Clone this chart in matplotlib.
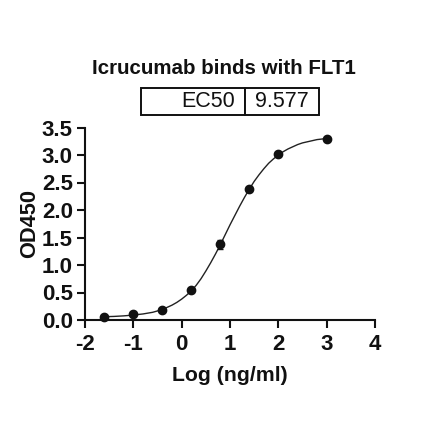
import matplotlib
matplotlib.use("Agg")
import matplotlib.pyplot as plt

title = "Icrucumab binds with FLT1"
x_label = "Log (ng/ml)"
y_label = "OD450"
table_cells = ["EC50", "9.577"]
x_ticks = [-2, -1, 0, 1, 2, 3, 4]
y_ticks = [0.0, 0.5, 1.0, 1.5, 2.0, 2.5, 3.0, 3.5]

log_conc = [-1.6, -1.0, -0.4, 0.2, 0.8, 1.4, 2.0, 3.0]
od450 = [0.06, 0.11, 0.19, 0.55, 1.38, 2.38, 3.02, 3.30]
od450_err = [0.01, 0.01, 0.01, 0.02, 0.08, 0.03, 0.03, 0.02]

fit_x = [-1.6, -1.4, -1.2, -1.0, -0.8, -0.6, -0.4, -0.3, -0.2, -0.1, 0.0, 0.1, 0.2, 0.3, 0.4,
         0.5, 0.6, 0.7, 0.8, 0.9, 1.0, 1.1, 1.2, 1.3, 1.4, 1.5, 1.6, 1.7, 1.8, 1.9, 2.0,
         2.1, 2.2, 2.3, 2.4, 2.5, 2.6, 2.7, 2.8, 2.9, 3.0]
fit_y = [0.06, 0.065, 0.075, 0.09, 0.11, 0.14, 0.19, 0.23, 0.27, 0.32, 0.38, 0.45, 0.53, 0.63, 0.75,
         0.89, 1.04, 1.20, 1.37, 1.55, 1.73, 1.90, 2.07, 2.23, 2.38, 2.52, 2.64, 2.75, 2.85, 2.93, 3.00,
         3.06, 3.11, 3.15, 3.19, 3.22, 3.24, 3.26, 3.28, 3.29, 3.30]

plt.rcParams["font.family"] = ["Liberation Sans", "DejaVu Sans"]
plt.rcParams["font.weight"] = "bold"
plt.rcParams["axes.unicode_minus"] = False

W, H = 440, 441
fig = plt.figure(figsize=(W / 100, H / 100), dpi=100)
L, R, T, B = 85, 375, 127.5, 320
ax = fig.add_axes([L / W, 1 - B / H, (R - L) / W, (B - T) / H])

ax.plot(fit_x, fit_y, color="#222222", lw=1.0, zorder=2, clip_on=False)
ax.errorbar(log_conc, od450, yerr=od450_err, fmt="o", color="#111111", ms=6,
            elinewidth=1, capsize=2.5, capthick=1, zorder=3, clip_on=False)

ax.set_xlim(-2, 4)
ax.set_ylim(0, 3.5)
ax.set_xticks(x_ticks)
ax.set_yticks(y_ticks)
ax.set_yticklabels([f"{v:.1f}" for v in y_ticks])
ax.tick_params(axis="x", pad=4)
ax.tick_params(axis="both", labelsize=16, width=1.5, length=5.8, color="#111111",
               labelcolor="#111111")
ax.tick_params(axis="y", pad=3)
for s in ("top", "right"):
    ax.spines[s].set_visible(False)
for s in ("left", "bottom"):
    ax.spines[s].set_linewidth(1.5)
    ax.spines[s].set_color("#111111")

ax.set_xlabel(x_label, fontsize=15.3, fontweight="bold", color="#111111", labelpad=8)
ax.set_ylabel(y_label, fontsize=15.7, fontweight="bold", color="#111111", labelpad=1.5)
fig.text(224 / W, 1 - 68.5 / H, title, fontsize=14.8, fontweight="bold", color="#111111",
         ha="center", va="center")

# EC50 table, positioned in figure pixels
tl, tr, tt, tb = 141, 319, 88, 115
bbox = [(tl - L) / (R - L), (B - tb) / (B - T), (tr - tl) / (R - L), (tb - tt) / (B - T)]
tbl = ax.table(cellText=[table_cells], colWidths=[104 / 178, 74 / 178], bbox=bbox, cellLoc="center")
tbl.auto_set_font_size(False)
for i, cell in tbl.get_celld().items():
    cell.set_linewidth(1.4)
    cell.set_edgecolor("#111111")
    cell.get_text().set_fontsize(15.5)
    cell.get_text().set_fontweight("normal")
    cell.get_text().set_color("#111111")
tbl[(0, 0)].get_text().set_ha("right")
tbl[(0, 0)].PAD = 0.1

fig.savefig("out.png", dpi=100)
